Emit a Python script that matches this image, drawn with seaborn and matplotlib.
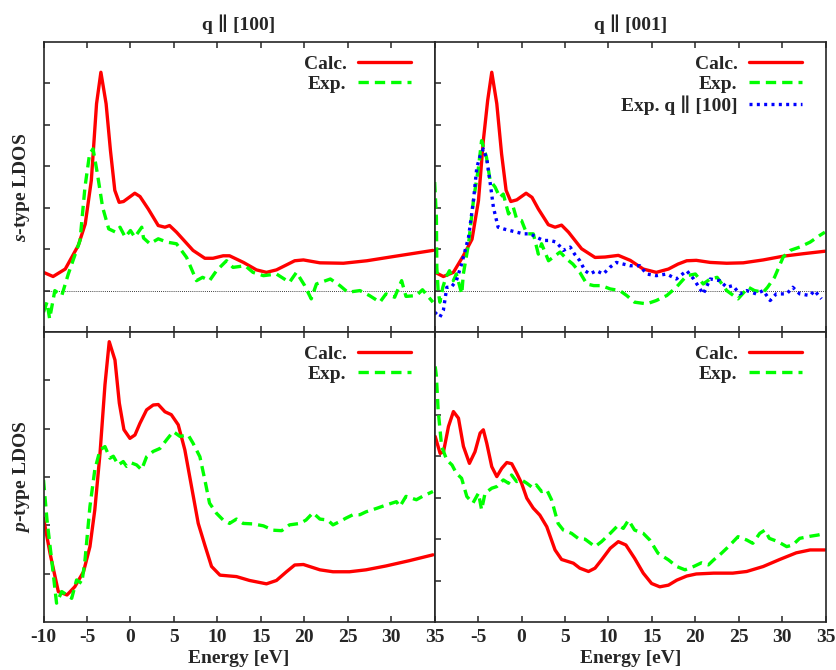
import numpy as np
import pandas as pd
import matplotlib
matplotlib.use("Agg")
import matplotlib.pyplot as plt
import seaborn as sns

# ---- data (energy in eV, LDOS in arbitrary units) ----
# top left: s-type, q || [100]
s100_calc_e = [-10.0, -8.9, -7.5, -6.0, -5.2, -4.5, -3.9, -3.4, -2.8, -2.3, -1.8, -1.3, -0.8, 0.5, 1.1,
               2.05, 3.2, 3.97, 4.5, 5.3, 7.2, 8.56, 9.5, 10.67, 11.4, 13.0, 14.5, 15.65, 16.8, 17.95,
               18.9, 19.9, 21.8, 24.5, 27.2, 30.2, 34.8]
s100_calc_y = [0.44, 0.34, 0.52, 1.09, 1.61, 2.66, 4.51, 5.27, 4.51, 3.38, 2.42, 2.13, 2.15, 2.35, 2.27,
               1.97, 1.57, 1.53, 1.57, 1.41, 0.97, 0.78, 0.78, 0.84, 0.84, 0.68, 0.50, 0.44, 0.50, 0.62,
               0.72, 0.74, 0.67, 0.66, 0.72, 0.82, 0.97]
s100_exp_e = [-10.0, -9.6, -9.3, -8.7, -7.9, -7.15, -5.8, -5.23, -4.7, -4.3, -3.8, -3.2, -2.5, -1.7, -1.2,
              -0.6, 0.0, 0.5, 1.3, 1.5, 2.24, 3.2, 4.2, 5.3, 6.46, 7.6, 8.3, 9.1, 9.9, 11.05, 11.8, 13.2,
              14.1, 15.3, 16.8, 18.3, 19.1, 20.05, 20.8, 21.4, 23.0, 24.1, 25.0, 26.4, 27.5, 28.7, 29.4,
              30.4, 31.2, 31.7, 32.9, 33.6, 34.8]
s100_exp_y = [-0.52, -0.28, -0.68, 0.0, -0.12, 0.40, 1.21, 2.5, 3.3, 3.42, 2.82, 2.01, 1.49, 1.41, 1.53,
              1.29, 1.45, 1.29, 1.53, 1.27, 1.13, 1.25, 1.17, 1.13, 0.80, 0.24, 0.32, 0.24, 0.48, 0.72, 0.56, 0.60,
              0.44, 0.36, 0.40, 0.20, 0.44, 0.12, -0.20, 0.16, 0.28, 0.12, -0.04, 0.0, -0.12, -0.28, -0.08,
              -0.16, 0.24, -0.14, -0.12, 0.02, -0.28]

# top right: s-type, q || [001]
s001_calc_e = [-9.94, -9.0, -7.84, -6.7, -5.7, -4.96, -4.4, -3.9, -3.43, -2.85, -2.3, -1.78, -1.24, -0.55,
               0.52, 1.2, 1.93, 3.08, 3.85, 4.6, 5.4, 6.9, 8.45, 9.6, 11.13, 12.5, 14.0, 15.5, 16.9, 18.0,
               19.0, 20.1, 21.7, 23.6, 25.5, 27.8, 30.1, 32.4, 34.9]
s001_calc_y = [0.44, 0.34, 0.44, 0.84, 1.24, 2.17, 3.62, 4.59, 5.27, 4.51, 3.30, 2.42, 2.15, 2.19,
               2.35, 2.25, 1.97, 1.59, 1.53, 1.58, 1.41, 1.01, 0.80, 0.81, 0.85, 0.73, 0.52, 0.44, 0.52, 0.64,
               0.72, 0.73, 0.68, 0.66, 0.67, 0.74, 0.83, 0.89, 0.95]
s001_exp_e = [-10.0, -9.8, -9.75, -9.6, -9.4, -9.06, -8.7, -8.3, -7.85, -7.5, -6.88, -6.7, -6.1, -5.54,
              -4.96, -4.6, -4.04, -3.62, -3.05, -2.5, -2.1, -1.5, -0.95, -0.57, 0.0, 0.6, 1.35, 1.93, 2.3,
              3.1, 3.6, 4.43, 5.2, 5.9, 6.7, 7.5, 8.3, 9.2, 10.2, 11.3, 12.1, 13.0, 14.4, 15.5, 16.7, 17.8,
              19.0, 20.0, 20.9, 21.7, 22.5, 23.6, 24.9, 26.1, 26.8, 27.8, 28.3, 29.1, 30.1, 30.9, 32.0,
              33.2, 34.3, 34.9]
s001_exp_y = [2.62, 1.77, 0.56, 0.0, -0.28, 0.08, 0.32, 0.48, 0.24, 0.40, -0.08, 0.40, 1.13, 2.17,
              2.97, 3.62, 3.22, 2.66, 2.50, 2.25, 2.33, 1.85, 2.01, 1.73, 1.69, 1.37, 1.37, 0.88, 1.13,
              0.72, 0.80, 0.93, 0.76, 0.64, 0.44, 0.16, 0.12, 0.12, 0.04, 0.0, -0.12, -0.28, -0.32, -0.24,
              -0.12, 0.08, 0.36, 0.40, 0.16, 0.28, 0.32, 0.0, -0.20, 0.08, 0.0, -0.04, 0.08, 0.32, 0.81,
              0.97, 1.05, 1.17, 1.33, 1.41]
s001_exp100_e = [-10.0, -9.4, -9.0, -8.6, -8.1, -7.5, -6.9, -6.1, -5.54, -5.15, -4.77, -4.4, -4.0, -3.6,
                 -3.24, -2.7, -2.1, -1.35, -0.57, 0.2, 1.0, 1.7, 2.5, 3.3, 4.0, 4.8, 5.6, 6.1, 6.7, 7.3,
                 7.85, 8.6, 9.4, 10.15, 10.9, 11.7, 12.5, 13.6, 14.4, 15.5, 16.7, 17.8, 19.0, 19.8, 20.9,
                 21.7, 22.8, 23.6, 24.3, 25.1, 25.9, 27.0, 27.8, 28.6, 29.3, 30.5, 31.2, 32.0, 33.2, 33.7,
                 34.5]
s001_exp100_y = [-0.52, -0.64, -0.48, 0.08, 0.08, 0.24, 0.64, 1.29, 2.17, 2.97, 3.25, 3.42, 3.17, 2.58,
                 2.01, 1.53, 1.49, 1.45, 1.41, 1.37, 1.37, 1.29, 1.21, 1.21, 1.17, 0.97, 1.05, 0.88, 0.72,
                 0.48, 0.40, 0.48, 0.40, 0.56, 0.68, 0.64, 0.60, 0.60, 0.40, 0.36, 0.40, 0.28, 0.48, 0.28,
                 -0.08, 0.28, 0.24, 0.08, 0.12, -0.08, 0.0, -0.08, 0.0, -0.24, -0.08, -0.08, 0.08, -0.08,
                 -0.12, 0.0, -0.20]

# bottom left: p-type, q || [100]
p100_calc_e = [-10.0, -9.25, -8.3, -7.3, -6.4, -5.4, -4.66, -4.1, -3.5, -2.93, -2.44, -1.78, -1.28, -0.75,
               -0.06, 0.52, 1.09, 1.86, 2.62, 3.2, 3.97, 4.7, 5.5, 6.26, 7.03, 7.8, 8.56, 9.33, 10.3, 12.2,
               13.7, 15.65, 16.8, 17.95, 18.9, 19.9, 21.8, 23.3, 25.2, 27.1, 29.4, 32.1, 34.8]
p100_calc_y = [2.15, 1.42, 0.63, 0.56, 0.73, 1.04, 1.56, 2.32, 3.49, 4.91, 5.80, 5.42, 4.53, 3.98,
               3.80, 3.87, 4.11, 4.39, 4.49, 4.50, 4.35, 4.29, 4.08, 3.56, 2.80, 2.04, 1.59, 1.15, 0.97, 0.94,
               0.86, 0.79, 0.86, 1.04, 1.18, 1.19, 1.08, 1.04, 1.04, 1.08, 1.16, 1.27, 1.39]
p100_exp_e = [-10.0, -9.6, -9.06, -8.5, -7.9, -7.3, -6.76, -6.2, -5.6, -5.23, -4.66, -4.1, -3.5, -2.93,
              -2.36, -1.97, -1.4, -0.83, -0.44, 0.14, 0.71, 1.28, 1.86, 2.62, 3.39, 4.16, 4.92, 5.7, 6.64,
              7.2, 7.99, 8.56, 9.1, 9.9, 10.67, 11.4, 12.2, 12.97, 14.1, 15.3, 16.4, 17.4, 18.3, 19.5, 20.2,
              21.0, 21.8, 22.7, 23.3, 24.1, 24.8, 25.6, 26.4, 27.1, 28.3, 29.4, 30.6, 31.0, 31.7, 32.9,
              33.6, 34.8]
p100_exp_y = [2.94, 2.11, 1.28, 0.39, 0.63, 0.56, 0.49, 0.87, 0.80, 1.28, 2.39, 3.15, 3.56, 3.63,
              3.39, 3.43, 3.25, 3.32, 3.22, 3.29, 3.25, 3.15, 3.42, 3.53, 3.59, 3.77, 3.94, 3.84, 3.87,
              3.70, 3.42, 2.94, 2.46, 2.25, 2.11, 2.04, 2.13, 2.04, 2.03, 1.99, 1.90, 1.89, 2.01, 2.04, 2.11,
              2.26, 2.13, 2.11, 2.01, 2.08, 2.15, 2.22, 2.22, 2.28, 2.35, 2.42, 2.49, 2.39, 2.60, 2.53,
              2.60, 2.70]

# bottom right: p-type, q || [001]
p001_calc_e = [-9.94, -9.37, -8.98, -8.41, -7.84, -7.26, -6.69, -6.0, -5.36, -4.77, -4.4, -4.0, -3.43,
               -2.85, -2.28, -1.7, -1.13, -0.55, 0.0, 0.6, 1.34, 2.1, 2.9, 3.85, 4.6, 5.96, 6.7, 7.7, 8.45,
               9.2, 10.2, 11.13, 12.0, 13.0, 14.0, 14.96, 15.9, 16.9, 17.85, 19.0, 20.1, 22.1, 24.3, 25.9,
               27.8, 29.7, 31.6, 33.2, 34.9]
p001_calc_y = [4.48, 4.07, 4.11, 4.72, 5.08, 4.92, 4.24, 3.83, 4.11, 4.56, 4.64, 4.31, 3.75,
               3.51, 3.71, 3.85, 3.82, 3.59, 3.35, 2.99, 2.75, 2.58, 2.30, 1.74, 1.51, 1.42, 1.30, 1.22, 1.30,
               1.50, 1.78, 1.94, 1.86, 1.54, 1.18, 0.93, 0.85, 0.89, 1.01, 1.11, 1.16, 1.18, 1.18, 1.22,
               1.34, 1.51, 1.67, 1.74, 1.74]
p001_exp_e = [-9.94, -9.8, -9.6, -9.2, -8.6, -8.0, -7.5, -6.9, -6.3, -5.6, -4.96, -4.6, -4.2, -3.43,
              -2.85, -2.1, -1.5, -1.15, -0.57, 0.0, 0.6, 1.35, 1.7, 2.3, 2.9, 3.45, 4.2, 4.8, 5.75, 6.5,
              7.3, 8.45, 9.2, 10.2, 11.13, 11.7, 12.3, 13.0, 14.0, 14.75, 15.7, 16.9, 17.85, 18.8, 19.8,
              20.7, 21.5, 22.1, 23.0, 23.8, 24.9, 25.9, 26.6, 27.4, 28.0, 28.5, 29.5, 30.5, 31.2, 32.0,
              33.2, 34.1, 34.9]
p001_exp_y = [6.17, 5.93, 5.12, 4.24, 3.91, 3.79, 3.59, 3.47, 3.03, 2.87, 3.11, 2.71, 3.11, 3.23,
              3.27, 3.43, 3.35, 3.55, 3.39, 3.43, 3.35, 3.23, 3.31, 3.15, 3.19, 2.95, 2.38, 2.22, 2.14, 2.02,
              2.00, 1.82, 1.94, 2.14, 2.34, 2.26, 2.46, 2.22, 2.14, 1.98, 1.66, 1.50, 1.34, 1.26, 1.34,
              1.43, 1.38, 1.50, 1.66, 1.82, 2.06, 1.98, 1.90, 2.14, 2.22, 2.02, 1.94, 1.82, 1.86, 2.02,
              2.07, 2.10, 2.14]

col_titles = ["q \u2225 [100]", "q \u2225 [001]"]
row_labels = ["$s$-type LDOS", "$p$-type LDOS"]
x_ticks = [-10, -5, 0, 5, 10, 15, 20, 25, 30, 35]

# ---- style ----
sns.set_style("ticks")
plt.rcParams['font.family'] = ['Liberation Serif', 'DejaVu Serif']
plt.rcParams['font.weight'] = 'bold'
plt.rcParams['font.size'] = 14
plt.rcParams['axes.unicode_minus'] = False
plt.rcParams['mathtext.fontset'] = 'custom'
plt.rcParams['mathtext.it'] = 'Liberation Serif:italic:bold'
plt.rcParams['mathtext.rm'] = 'Liberation Serif:bold'

RED, GREEN, BLUE = "#ff0000", "#00ff00", "#0000ff"
LW = 2.4
DASHED = (0, (3.1, 1.8))
DOTTED = (0, (0.9, 1.3))

fig, axes = plt.subplots(2, 2, figsize=(8.37, 6.70), dpi=100)
fig.subplots_adjust(left=0.052, right=0.9866, bottom=0.0716, top=0.9373, wspace=0, hspace=0)

panels = {
    (0, 0): [(s100_calc_e, s100_calc_y, "Calc.", RED, "-"),
             (s100_exp_e, s100_exp_y, "Exp.", GREEN, DASHED)],
    (0, 1): [(s001_calc_e, s001_calc_y, "Calc.", RED, "-"),
             (s001_exp_e, s001_exp_y, "Exp.", GREEN, DASHED),
             (s001_exp100_e, s001_exp100_y, "Exp. q \u2225 [100]", BLUE, DOTTED)],
    (1, 0): [(p100_calc_e, p100_calc_y, "Calc.", RED, "-"),
             (p100_exp_e, p100_exp_y, "Exp.", GREEN, DASHED)],
    (1, 1): [(p001_calc_e, p001_calc_y, "Calc.", RED, "-"),
             (p001_exp_e, p001_exp_y, "Exp.", GREEN, DASHED)],
}
ylims = {(0, 0): (-1, 6), (0, 1): (-1, 6), (1, 0): (0, 6), (1, 1): (0, 7)}
yticks = {(0, 0): [0, 1, 2, 3, 4, 5], (0, 1): [0, 1, 2, 3, 4, 5],
          (1, 0): [1, 2, 3, 4, 5], (1, 1): [1, 2, 3, 4, 5]}

for (r, c), curves in panels.items():
    ax = axes[r, c]
    if r == 0:
        ax.axhline(0, color="black", lw=0.6, ls=(0, (1, 1.5)), zorder=1)
    for e, y, lab, col, ls in curves:
        df = pd.DataFrame({"E": e, "y": y})
        sns.lineplot(data=df, x="E", y="y", ax=ax, color=col, lw=LW, linestyle=ls,
                     label=lab, sort=False)
    ax.set_xlim(-10, 35)
    ax.set_ylim(*ylims[(r, c)])
    ax.set_xticks(x_ticks)
    ax.set_yticks(yticks[(r, c)])
    ax.set_yticklabels([])
    ax.set_ylabel("")
    ax.set_xlabel("")
    ax.tick_params(axis="x", direction="in", top=True, bottom=True, length=4, width=1.1, pad=5)
    ax.tick_params(axis="y", direction="in", left=True, right=False, length=4, width=1.1)
    for sp in ax.spines.values():
        sp.set_visible(True)
        sp.set_linewidth(1.2)
    if r == 0:
        ax.set_xticklabels([])
        ax.set_title(col_titles[c], fontsize=14, fontweight="bold", pad=9)
    else:
        labs = [str(t) for t in x_ticks]
        if c == 1:
            labs[0] = ""
        ax.set_xticklabels(labs)
        ax.set_xlabel("Energy [eV]", fontsize=14, fontweight="bold", labelpad=3)
    if c == 0:
        ax.set_ylabel(row_labels[r], fontsize=14, fontweight="bold", labelpad=5)
    leg = ax.legend(loc="upper right", bbox_to_anchor=(0.9386, 0.9534), frameon=False,
                    markerfirst=False, fontsize=14, handlelength=2.7, handletextpad=0.6,
                    labelspacing=0.11, borderaxespad=0.0, borderpad=0.0)

plt.savefig("out.png", dpi=100, facecolor="white")
